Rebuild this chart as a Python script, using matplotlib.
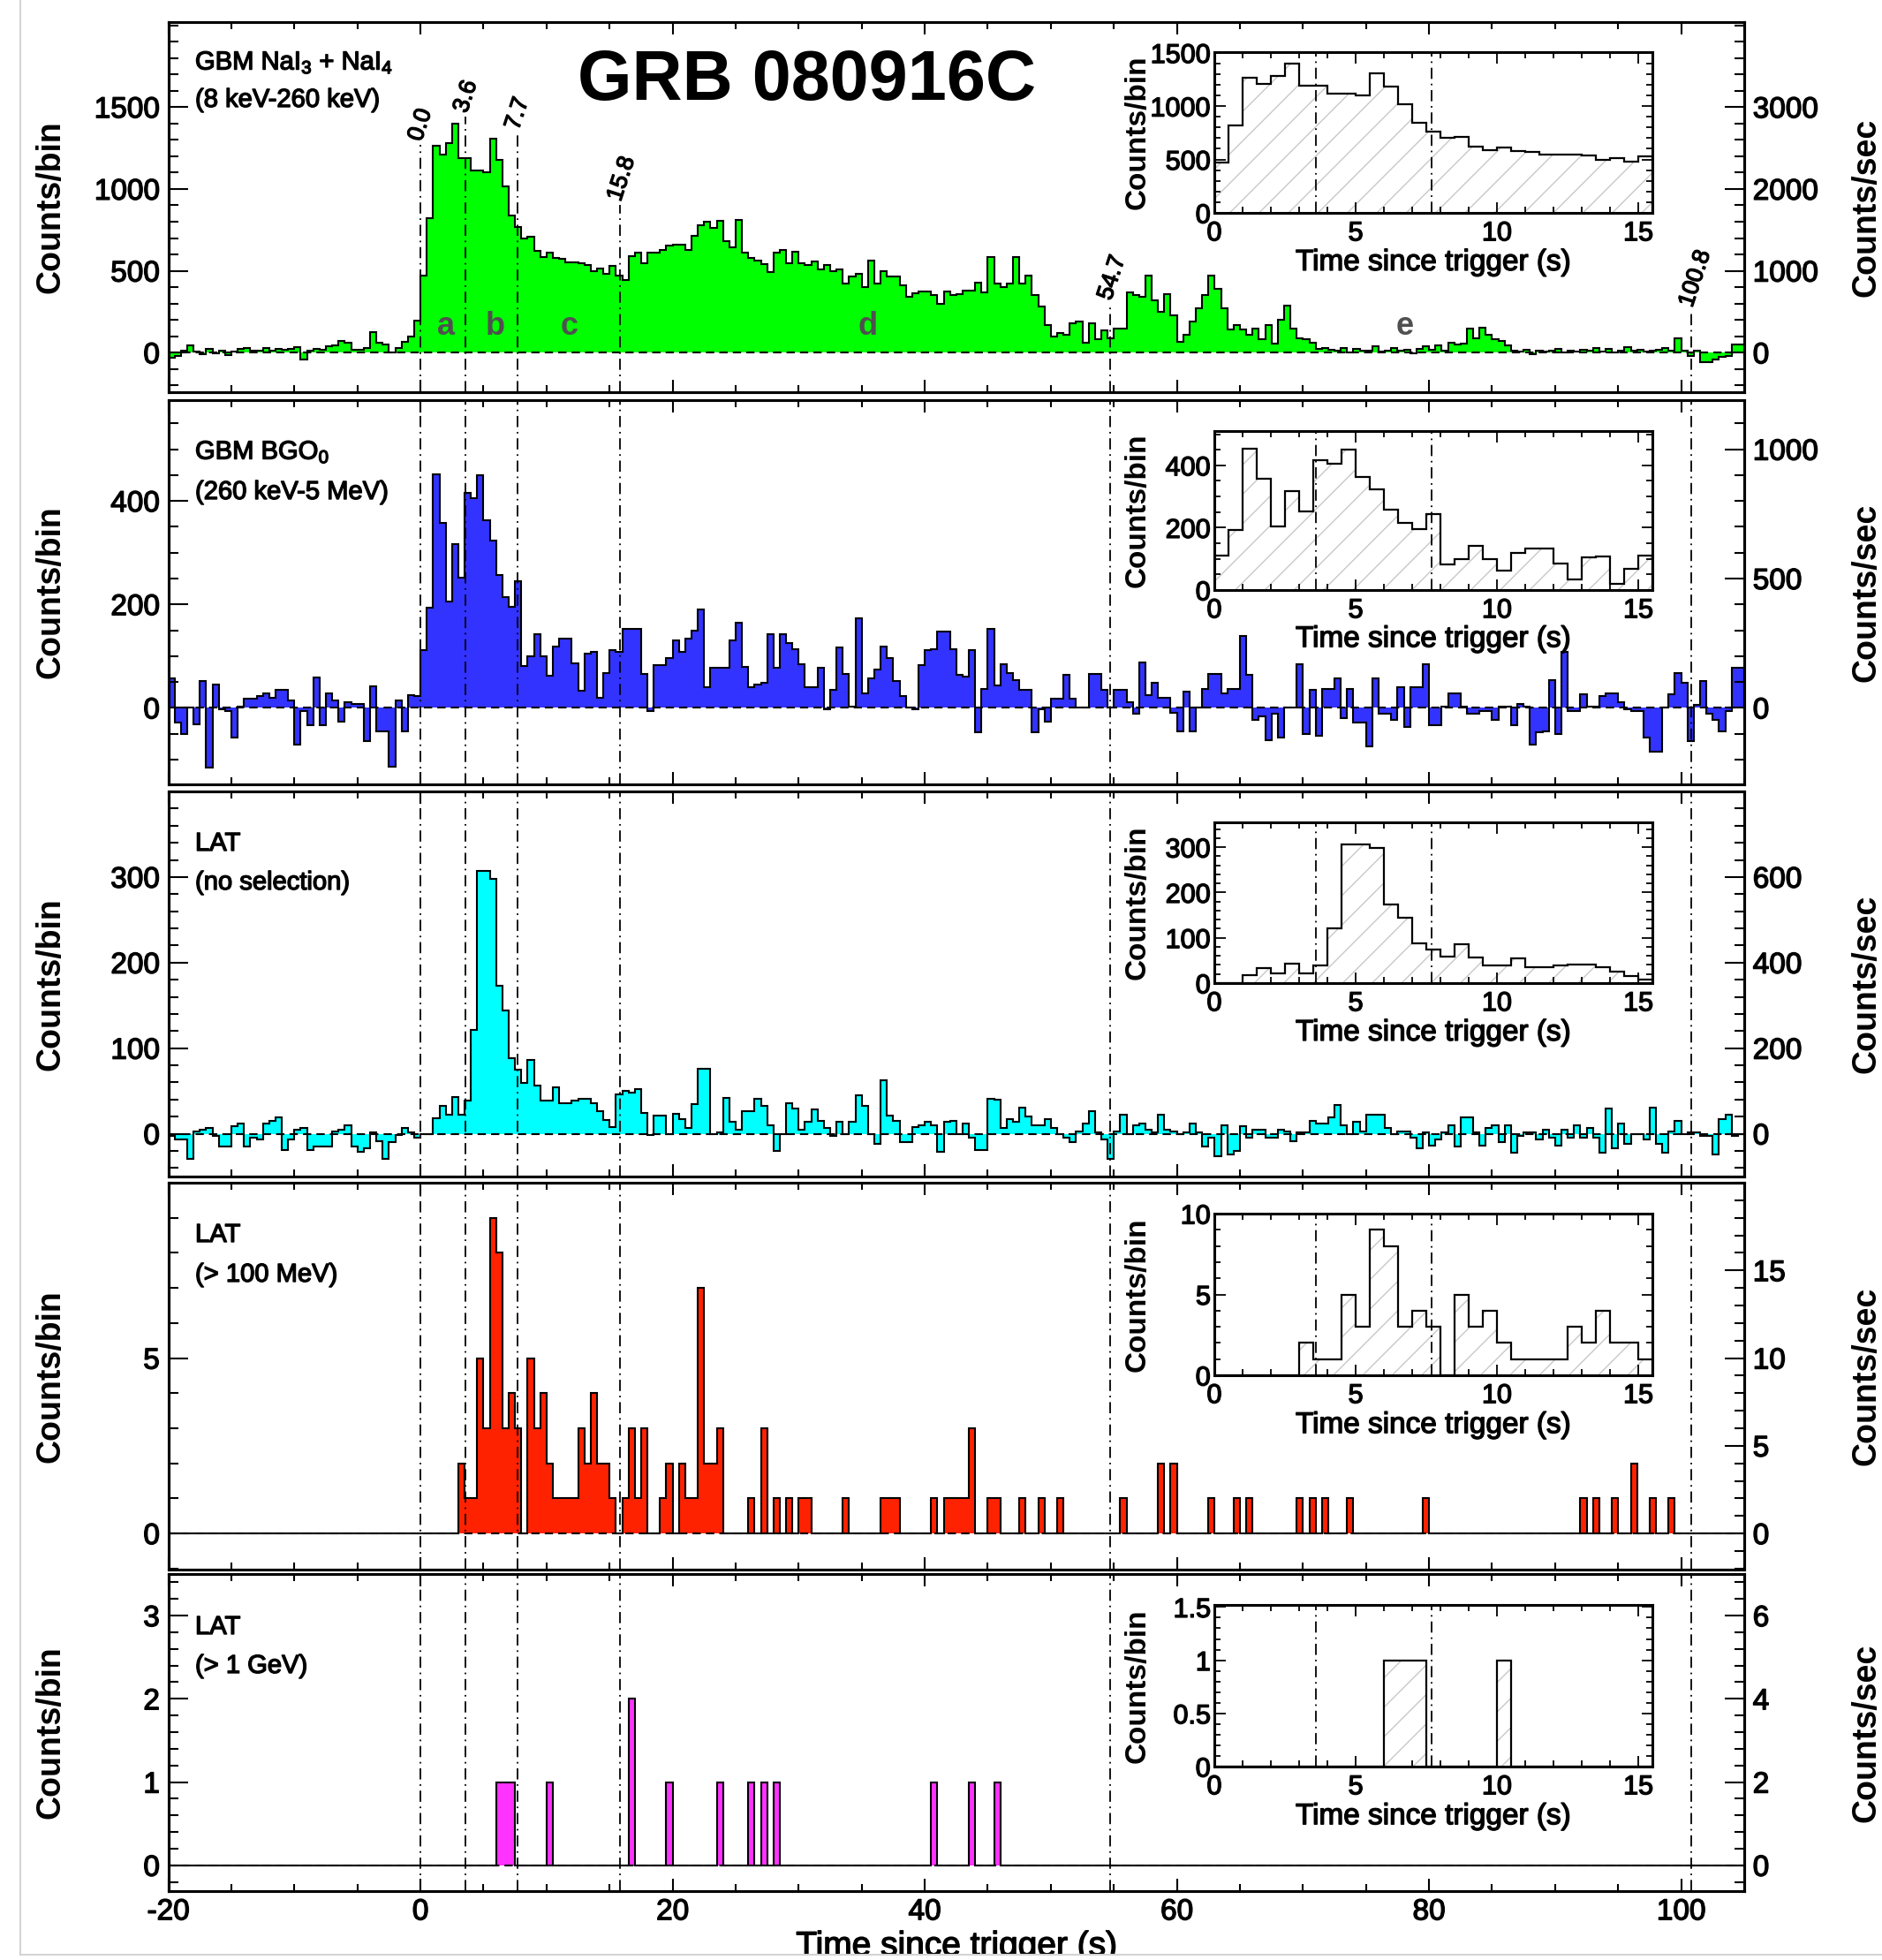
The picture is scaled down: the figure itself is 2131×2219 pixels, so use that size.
import numpy as np
import matplotlib.pyplot as plt
from matplotlib import patheffects as pe
from matplotlib.patches import Rectangle
from matplotlib.lines import Line2D
from matplotlib.text import Text
from matplotlib.ticker import MultipleLocator, FixedLocator, FixedFormatter

plt.rcParams['font.family'] = ['Liberation Sans', 'DejaVu Sans']
plt.rcParams['mathtext.fontset'] = 'custom'
plt.rcParams['mathtext.rm'] = 'Liberation Sans'
plt.rcParams['mathtext.it'] = 'Liberation Sans:italic'
plt.rcParams['mathtext.bf'] = 'Liberation Sans:bold'
plt.rcParams['axes.unicode_minus'] = False
plt.rcParams['hatch.color'] = '#c8c8c8'
plt.rcParams['hatch.linewidth'] = 1.0

W, H = 2131, 2219
T0, BIN, NBIN = -20.0, 0.5, 250

# ---------------- data: counts per 0.5 s bin ----------------
# GBM NaI3 + NaI4 (8 keV - 260 keV)
nai_pre = [-30, -20, 15, 45, 5, -10, 25, -5, 15, -15,
           5, 25, 30, 15, 15, 30, 15, 25, 20, 25,
           35, -40, 10, 25, 20, 40, 45, 70, 60, 20,
           20, 30, 125, 60, 50, 0, 30, 65, 100, 195]
nai_burst = [470, 820, 1265, 1210, 1280, 1400, 1190, 1190, 1115, 1115,
             1100, 1305, 1180, 1015, 840, 765, 700, 710, 620, 585,
             610, 580, 575, 550, 550, 545, 535, 500, 515, 480, 530]
nai_tail = [470, 445, 590, 610, 545, 610, 610, 625, 655, 660,
            660, 625, 715, 780, 800, 760, 805, 680, 645, 810,
            610, 580, 560, 540, 490, 610, 625, 545, 615, 545,
            535, 555, 510, 535, 500, 510, 420, 465, 480, 400,
            565, 420, 500, 465, 465, 410, 340, 365, 375, 375,
            350, 300, 375, 350, 360, 380, 380, 430, 370, 585,
            425, 400, 420, 585, 425, 470, 350, 280, 170, 100,
            120, 110, 180, 190, 60, 180, 80, 135, 90, 145,
            145, 370, 350, 340, 470, 320, 250, 360, 230, 65,
            110, 190, 270, 350, 470, 390, 270, 140, 170, 140,
            110, 145, 80, 170, 55, 200, 290, 145, 90, 80,
            60, 25, 30, 20, 10, 30, 0, 25, 10, 15,
            40, 5, 15, 30, 10, 20, -5, 25, 40, 20,
            45, 15, 60, 50, 55, 145, 90, 155, 110, 80,
            70, 45, 10, 5, 20, -10, 15, 5, 10, 25,
            0, 15, 5, 20, 10, 30, 5, 25, 0, 15,
            35, 10, 20, 5, 15, 20, 30, 15, 90, 10,
            -20, 15, -60, -60, -40, -25, -20, 50, 50]

# GBM BGO0 (260 keV - 5 MeV)
bgo_pre = [57, -28, -51, 0, -31, 52, -116, 45, -3, -6,
           -57, 3, 17, 17, 23, 28, 20, 34, 34, 14,
           -71, -6, -34, 58, -34, 28, 14, -26, 11, 8,
           8, -65, 41, -45, -45, -114, 14, -45, 25, 23]
bgo_burst = [111, 193, 452, 357, 205, 316, 252, 416, 405, 450,
             362, 324, 257, 214, 195, 245, 81, 100, 143, 100,
             62, 119, 133, 133, 86, 33, 105, 108, 19, 67, 111]
bgo_tail = [108, 153, 153, 153, 65, -6, 82, 82, 97, 131,
            108, 133, 150, 191, 40, 77, 77, 77, 131, 165,
            80, 40, 45, 48, 142, 77, 142, 125, 114, 85,
            40, 40, 77, -3, 34, 116, 65, 3, 173, 28,
            57, 74, 119, 97, 51, 23, 0, -3, 82, 111,
            114, 148, 148, 114, 63, 60, 111, -48, 37, 153,
            43, 85, 68, 53, 34, 34, -48, -3, -26, 17,
            17, 63, 17, 0, 0, 65, 65, 34, 0, 34,
            34, 11, -11, 88, 25, 48, 20, 20, -9, -45,
            31, -45, 0, 37, 65, 65, 28, 37, 37, 139,
            63, -23, -17, -62, -11, -57, 0, 0, 85, -51,
            34, -54, 37, 37, 57, -20, 37, -28, -28, -74,
            57, -11, -11, -23, 40, -37, 40, 40, 85, -34,
            -34, 3, 28, 28, 3, -11, -11, -6, -6, -23,
            3, 3, -34, 8, 3, -71, -48, -45, 54, -51,
            108, -6, -6, 26, 3, 3, 23, 28, 28, 11,
            -3, -6, -6, -57, -85, -85, 0, 26, 68, 48,
            -65, 6, 51, -11, -23, -45, -6, 77, 77]

# LAT, no selection
lat_pre = [-3, -7, -7, -29, 3, 5, 7, -3, -15, -15,
           9, 12, -15, -5, -7, 12, 15, 19, -19, -7,
           5, 7, -19, -15, -15, -15, 3, 5, 10, -15,
           -21, -17, 2, -9, -29, -10, -2, 7, 2, -5]
lat_burst = [0, 0, 18, 33, 22, 43, 22, 39, 121, 307,
             307, 298, 173, 144, 88, 75, 59, 86, 56, 39,
             39, 54, 36, 36, 39, 41, 41, 36, 26, 16, 8]
lat_tail = [46, 50, 48, 52, 24, -2, 21, 21, 0, 23,
            17, 7, 35, 76, 76, 0, 2, 42, 14, 5,
            26, 26, 41, 33, 10, -20, 0, 36, 29, 5,
            14, 28, 15, 7, -3, 14, 0, 14, 45, 33,
            0, -12, 62, 21, 15, -10, -10, 8, 10, 14,
            10, -21, 14, 15, 0, 12, -5, -19, -19, 41,
            40, 7, 17, 14, 30, 20, 10, 10, 17, 7,
            0, -5, -10, 3, 12, 26, 2, -7, -29, 3,
            22, 0, 10, 12, 5, 2, 22, 5, 3, 0,
            2, 12, 2, -15, -5, -26, 10, -24, -20, 9,
            -5, 5, 5, -5, -5, 5, 3, -9, 2, 2,
            15, 12, 12, 19, 34, 10, 0, 14, 3, 22,
            22, 22, 7, 0, 3, 3, -5, -17, 2, -14,
            -7, 2, 10, -15, 19, 19, 2, -14, 7, 10,
            -10, 10, -22, -3, 2, 2, -7, 5, -5, -14,
            5, -5, 10, -5, 7, -5, -22, 29, -17, 12,
            -12, 0, 0, -7, 31, -12, -22, 3, 15, 0,
            2, 2, -3, -3, -24, 17, 22, -3, 0]

# LAT > 100 MeV
lat100_burst = [0, 0, 0, 0, 0, 0, 2, 1, 1, 5, 3, 9, 8, 3, 4, 3,
                0, 5, 3, 4, 2, 1, 1, 1, 1, 3, 2, 4, 2, 2, 1]
lat100_tail_t = [16, 16.5, 17, 17.5, 19, 19.5, 20.5, 21, 21.5, 22, 22.5, 23, 23.5,
                 26, 27, 28, 29, 30, 30.5, 33.5, 36.5, 37, 37.5, 40.5, 41.5, 42,
                 42.5, 43, 43.5, 45, 45.5, 47.5, 49, 50.5, 55.5, 58.5, 59.5, 62.5,
                 64.5, 65.5, 69.5, 70.5, 71.5, 73.5, 79.5, 92, 93, 94.5, 96, 97.5, 99]
lat100_tail_n = [1, 3, 1, 3, 1, 2, 2, 1, 1, 7, 2, 2, 3,
                 1, 3, 1, 1, 1, 1, 1, 1, 1, 1, 1, 1, 1,
                 1, 1, 3, 1, 1, 1, 1, 1, 1, 2, 2, 1,
                 1, 1, 1, 1, 1, 1, 1, 1, 1, 1, 2, 1, 1]

# LAT > 1 GeV
lat1g_t = [6, 6.5, 7, 10, 16.5, 19.5, 23.5, 26, 27, 28, 40.5, 43.5, 45.5]
lat1g_n = [1, 1, 1, 1, 2, 1, 1, 1, 1, 1, 1, 1, 1]

phase_t = [0.0, 3.6, 7.7, 15.8, 54.7, 100.8]
phase_lab = ['0.0', '3.6', '7.7', '15.8', '54.7', '100.8']
phase_top = [1267, 1440, 1336, 900, 296, 253]   # where the lines start in the top panel
letters = ['a', 'b', 'c', 'd', 'e']
letter_t = [2.05, 5.9, 11.8, 35.5, 78.1]


def dense(pre, burst, tail):
    y = np.array(pre + burst + tail, dtype=float)
    assert len(y) == NBIN, (len(pre), len(burst), len(tail))
    return y


def sparse(times, counts):
    y = np.zeros(NBIN)
    for t, n in zip(times, counts):
        y[int(round((t - T0) / BIN))] = n
    return y


nai = dense(nai_pre, nai_burst, nai_tail)
bgo = dense(bgo_pre, bgo_burst, bgo_tail)
lat = dense(lat_pre, lat_burst, lat_tail)
lat100 = sparse(lat100_tail_t, lat100_tail_n)
lat100[40:71] = lat100_burst
lat1g = sparse(lat1g_t, lat1g_n)

edges = T0 + BIN * np.arange(NBIN + 1)
edges_in = BIN * np.arange(32)

series = [nai, bgo, lat, lat100, lat1g]
colors = ['#00ff00', '#3333ff', '#00ffff', '#ff2200', '#ff33ff']
ylims = [(-241, 2019), (-148, 595), (-50, 400), (-1.03, 10), (-0.31, 3.5)]
yticks = [[0, 500, 1000, 1500], [0, 200, 400], [0, 100, 200, 300], [0, 5], [0, 1, 2, 3]]
yminor = [100, 50, 20, 1, 0.2]
rticks = [[0, 1000, 2000, 3000], [0, 500, 1000], [0, 200, 400, 600], [0, 5, 10, 15], [0, 2, 4, 6]]
rminor = [200, 100, 40, 1, 0.4]
boxes = [(25, 444), (453, 888), (896, 1332), (1339, 1777), (1782, 2141)]
inset_boxes = [(59, 241), (488, 668), (931, 1113), (1374, 1557), (1817, 2000)]
inset_ylims = [(0, 1506), (0, 510), (0, 355), (0, 10), (0, 1.52)]
inset_ticks = [[0, 500, 1000, 1500], [0, 200, 400], [0, 100, 200, 300], [0, 5, 10], [0, 0.5, 1, 1.5]]
inset_minor = [100, 50, 20, 1, 0.1]
texts = [(r'GBM NaI$_3$ + NaI$_4$', '(8 keV-260 keV)'),
         (r'GBM BGO$_0$', '(260 keV-5 MeV)'),
         ('LAT', '(no selection)'),
         ('LAT', '(> 100 MeV)'),
         ('LAT', '(> 1 GeV)')]
text_y = [(71, 113), (512, 557), (955, 999), (1398, 1443), (1842, 1886)]

X0, X1 = 190.6, 1975
IX0, IX1 = 1375, 1871
dashdot = (0, (7, 3, 1, 3))
dashed = (0, (4.5, 2.8))

fig = plt.figure(figsize=(W / 100, H / 100), dpi=100)


def px_axes(x0, y0, x1, y1):
    return fig.add_axes([x0 / W, 1 - y1 / H, (x1 - x0) / W, (y1 - y0) / H])


for i in range(5):
    top, bot = boxes[i]
    ax = px_axes(X0, top, X1, bot)
    y = series[i]
    ax.stairs(y, edges, baseline=0, fill=True, color=colors[i], lw=0, zorder=1)
    ax.stairs(y, edges, baseline=0, color='black', lw=1.5, zorder=2)
    ax.axhline(0, color='black', lw=1.5, ls=dashed, zorder=3)
    for k, t in enumerate(phase_t):
        if i == 0:
            ax.plot([t, t], [ylims[0][0], phase_top[k]], color='black', lw=1.3,
                    ls=dashdot, zorder=4)
            ax.text(t - 0.4, phase_top[k] + 30, phase_lab[k], rotation=72,
                    rotation_mode='anchor', ha='left', va='center', fontsize=19)
        else:
            ax.axvline(t, color='black', lw=1.3, ls=dashdot, zorder=4)
    if i == 0:
        for s, t in zip(letters, letter_t):
            ax.text(t, 160, s, color='#505050', fontsize=26, fontweight='bold',
                    ha='center', va='center', zorder=5)
    ax.set_xlim(-20, 105)
    ax.set_ylim(*ylims[i])
    ax.xaxis.set_major_locator(MultipleLocator(20))
    ax.xaxis.set_minor_locator(MultipleLocator(5))
    ax.yaxis.set_major_locator(FixedLocator(yticks[i]))
    ax.yaxis.set_minor_locator(MultipleLocator(yminor[i]))
    ax.tick_params(axis='both', which='both', direction='in', width=1.5,
                   top=True, bottom=True, labelsize=24)
    ax.tick_params(axis='y', which='major', length=16, pad=7)
    ax.tick_params(axis='y', which='minor', length=8)
    ax.tick_params(axis='x', which='major', length=10, pad=6)
    ax.tick_params(axis='x', which='minor', length=6)
    if i < 4:
        ax.tick_params(axis='x', labelbottom=False)
    else:
        ax.set_xticks([-20, 0, 20, 40, 60, 80, 100])
    for sp in ax.spines.values():
        sp.set_linewidth(2.2)

    ax2 = ax.twinx()
    ax2.set_ylim(2 * ylims[i][0], 2 * ylims[i][1])
    ax2.yaxis.set_major_locator(FixedLocator(rticks[i]))
    ax2.yaxis.set_minor_locator(MultipleLocator(rminor[i]))
    ax2.tick_params(axis='y', which='both', direction='in', width=1.5, labelsize=24)
    ax2.tick_params(axis='y', which='major', length=16, pad=7)
    ax2.tick_params(axis='y', which='minor', length=8)
    for sp in ax2.spines.values():
        sp.set_linewidth(2.2)

    yc = 1 - (top + bot) / 2 / H
    fig.text(57 / W, yc, 'Counts/bin', rotation=90, ha='center', va='center',
             fontsize=27, fontweight='bold')
    fig.text(2113 / W, yc, 'Counts/sec', rotation=90, ha='center', va='center',
             fontsize=27, fontweight='bold')
    fig.text(221 / W, 1 - text_y[i][0] / H, texts[i][0], ha='left', va='center', fontsize=21)
    fig.text(221 / W, 1 - text_y[i][1] / H, texts[i][1], ha='left', va='center', fontsize=21)

    # inset: zoom on the first 15.5 s
    itop, ibot = inset_boxes[i]
    axi = px_axes(IX0, itop, IX1, ibot)
    yin = y[40:71]
    axi.stairs(yin, edges_in, baseline=0, fill=True, facecolor='none',
               edgecolor='#c8c8c8', hatch='/', lw=0, zorder=1)
    axi.stairs(yin, edges_in, baseline=0, color='black', lw=1.6, zorder=2)
    for t in (3.6, 7.7):
        axi.axvline(t, color='black', lw=1.3, ls=dashdot, zorder=3)
    axi.set_xlim(0, 15.5)
    axi.set_ylim(*inset_ylims[i])
    axi.xaxis.set_major_locator(FixedLocator([0, 5, 10, 15]))
    axi.xaxis.set_minor_locator(MultipleLocator(1))
    axi.yaxis.set_major_locator(FixedLocator(inset_ticks[i]))
    axi.yaxis.set_major_formatter(FixedFormatter(['%g' % v for v in inset_ticks[i]]))
    axi.yaxis.set_minor_locator(MultipleLocator(inset_minor[i]))
    axi.tick_params(axis='both', which='both', direction='in', width=1.3,
                    top=True, right=True, labelsize=22)
    axi.tick_params(axis='both', which='major', length=9, pad=3)
    axi.tick_params(axis='both', which='minor', length=5)
    axi.tick_params(axis='x', which='major', pad=6)
    for sp in axi.spines.values():
        sp.set_linewidth(2.2)
    axi.text(-0.175, 0.5, 'Counts/bin', rotation=90, transform=axi.transAxes,
             ha='center', va='center', fontsize=24, fontweight='bold')
    axi.text(0.5, -0.31, 'Time since trigger (s)', transform=axi.transAxes,
             ha='center', va='center', fontsize=24)

fig.text(914 / W, 1 - 92 / H, 'GRB 080916C', ha='center', va='center',
         fontsize=57, fontweight='bold')
fig.text(1083 / W, 1 - 2214 / H, 'Time since trigger (s)', ha='center',
         va='baseline', fontsize=28)

# light frame of the original page
fig.patches.append(Rectangle((0, 0), 1, 6 / H, transform=fig.transFigure,
                             facecolor='white', edgecolor='none', zorder=10))
fig.lines.append(Line2D([23 / W, 1], [6 / H, 6 / H], transform=fig.transFigure,
                        color='#d4d4d4', lw=1.5, zorder=11))
fig.lines.append(Line2D([23 / W, 23 / W], [6 / H, 1], transform=fig.transFigure,
                        color='#d4d4d4', lw=1.5, zorder=11))

# the source figure's regular text is rendered rather heavy: thicken it a bit
fig.canvas.draw()
for t in fig.findobj(match=lambda a: isinstance(a, Text)):
    if t.get_text() and t.get_fontweight() not in ('bold', 700):
        t.set_path_effects([pe.withStroke(linewidth=1.0, foreground=t.get_color())])

fig.savefig('out.png', dpi=100)
